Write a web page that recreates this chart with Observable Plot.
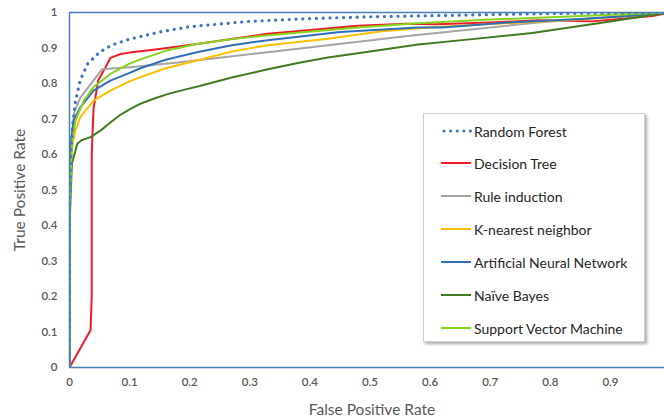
<!DOCTYPE html>
<html>
<head>
<meta charset="utf-8">
<script src="https://cdn.jsdelivr.net/npm/d3@7"></script>
<script src="https://cdn.jsdelivr.net/npm/@observablehq/plot@0.6"></script>
<style>
  body { margin: 0; background: #fff; }
  #wrap { position: relative; width: 664px; height: 417px; overflow: hidden; font-family: Lato, "Open Sans", sans-serif; }
  #legend { position: absolute; left: 423px; top: 113px; width: 222px; height: 229px; background: #fff;
            border: 1px solid #d0d0d0; box-shadow: 2px 2px 3px rgba(0,0,0,0.35); box-sizing: border-box; }
  .item { position: absolute; left: 17px; height: 16px; display: flex; align-items: center; font-size: 14px; color: #262626; white-space: nowrap; }
  .item svg { margin-right: 0px; }
</style>
</head>
<body>
<div id="wrap"></div>
<script>
// ---- data ----
const seriesNames = ["Random Forest", "Decision Tree", "Rule induction", "K-nearest neighbor", "Artificial Neural Network", "Naïve Bayes", "Support Vector Machine"];
const seriesColors = ["#4472c4", "#ee1c25", "#a5a5a5", "#ffc000", "#2e6fb7", "#417a22", "#86d41c"];

const rfFpr  = [0, 0, 0.002, 0.005, 0.01, 0.018, 0.03, 0.05, 0.07, 0.1, 0.15, 0.2, 0.3, 0.4, 0.5, 0.6, 0.7, 0.8, 0.9, 1];
const rfTpr  = [0, 0.45, 0.6, 0.68, 0.75, 0.81, 0.855, 0.888, 0.908, 0.925, 0.945, 0.96, 0.975, 0.983, 0.988, 0.991, 0.994, 0.997, 0.999, 1];

const dtFpr  = [0, 0.035, 0.037, 0.037, 0.04, 0.048, 0.06, 0.068, 0.085, 0.1, 0.15, 0.212, 0.33, 0.48, 0.56, 0.61, 0.7, 0.78, 0.87, 0.97, 1];
const dtTpr  = [0, 0.105, 0.2, 0.6, 0.73, 0.81, 0.846, 0.872, 0.883, 0.887, 0.897, 0.911, 0.94, 0.963, 0.968, 0.967, 0.972, 0.978, 0.975, 0.99, 1];

const riFpr  = [0, 0, 0.008, 0.018, 0.027, 0.054, 0.1, 0.185, 0.33, 0.57, 0.78, 1];
const riTpr  = [0, 0.6, 0.72, 0.76, 0.78, 0.84, 0.846, 0.86, 0.888, 0.935, 0.972, 1];

const knnFpr = [0, 0, 0.005, 0.01, 0.018, 0.04, 0.068, 0.1, 0.118, 0.16, 0.212, 0.27, 0.33, 0.43, 0.52, 0.6, 0.67, 0.8, 0.9, 1];
const knnTpr = [0, 0.5, 0.63, 0.668, 0.705, 0.752, 0.78, 0.806, 0.818, 0.843, 0.865, 0.89, 0.908, 0.926, 0.947, 0.958, 0.965, 0.976, 0.986, 1];

const annFpr = [0, 0, 0.003, 0.007, 0.018, 0.04, 0.068, 0.1, 0.118, 0.16, 0.212, 0.27, 0.33, 0.45, 0.58, 0.62, 0.73, 0.85, 0.93, 1];
const annTpr = [0, 0.45, 0.64, 0.696, 0.733, 0.78, 0.808, 0.83, 0.843, 0.867, 0.888, 0.908, 0.922, 0.945, 0.958, 0.958, 0.972, 0.982, 0.99, 1];

const nbFpr  = [0, 0, 0.004, 0.013, 0.02, 0.035, 0.052, 0.07, 0.085, 0.1, 0.118, 0.14, 0.163, 0.19, 0.215, 0.27, 0.33, 0.38, 0.43, 0.5, 0.58, 0.67, 0.77, 0.88, 0.99, 1];
const nbTpr  = [0, 0.4, 0.574, 0.63, 0.64, 0.649, 0.668, 0.693, 0.712, 0.727, 0.743, 0.757, 0.77, 0.782, 0.792, 0.817, 0.84, 0.858, 0.873, 0.89, 0.91, 0.925, 0.942, 0.97, 0.998, 1];

const svmFpr = [0, 0, 0.004, 0.01, 0.024, 0.04, 0.068, 0.1, 0.118, 0.16, 0.212, 0.27, 0.33, 0.48, 0.58, 0.7, 0.85, 1];
const svmTpr = [0, 0.45, 0.63, 0.696, 0.752, 0.79, 0.827, 0.856, 0.868, 0.892, 0.911, 0.925, 0.936, 0.958, 0.97, 0.98, 0.99, 1];

const xTicks = [0, 0.1, 0.2, 0.3, 0.4, 0.5, 0.6, 0.7, 0.8, 0.9];
const yTicks = [0, 0.1, 0.2, 0.3, 0.4, 0.5, 0.6, 0.7, 0.8, 0.9, 1];
const xTitle = "False Positive Rate";
const yTitle = "True Positive Rate";

// ---- build table ----
const fprs = [rfFpr, dtFpr, riFpr, knnFpr, annFpr, nbFpr, svmFpr];
const tprs = [rfTpr, dtTpr, riTpr, knnTpr, annTpr, nbTpr, svmTpr];
const rows = [];
seriesNames.forEach((s, i) => fprs[i].forEach((x, j) => rows.push({series: s, x, y: tprs[i][j]})));
const solid = rows.filter(d => d.series !== "Random Forest");
const dotted = rows.filter(d => d.series === "Random Forest");
const axisColor = "#4a7ebb";
const textColor = "#595959";

const chart = Plot.plot({
  width: 664,
  height: 417,
  marginLeft: 69,
  marginRight: 0,
  marginTop: 12,
  marginBottom: 50,
  style: {fontFamily: "Lato, 'Open Sans', sans-serif", background: "#fff"},
  x: {domain: [0, 0.99]},
  y: {domain: [0, 1]},
  color: {domain: seriesNames, range: seriesColors},
  marks: [
    Plot.axisX({ticks: xTicks, tickSize: 0, tickPadding: 10, tickFormat: d3.format("~g"), fontSize: 11.5, fontWeight: 600, color: textColor, label: null}),
    Plot.axisY({ticks: yTicks, tickSize: 0, tickPadding: 12, tickFormat: d3.format("~g"), fontSize: 11.5, fontWeight: 600, color: textColor, label: null}),
    Plot.text([xTitle], {text: d => d, frameAnchor: "bottom", dx: 5, dy: 43, textAnchor: "middle", lineAnchor: "middle", fontSize: 15.5, fill: textColor}),
    Plot.text([yTitle], {text: d => d, frameAnchor: "left", dx: -49, rotate: -90, textAnchor: "middle", lineAnchor: "middle", fontSize: 15.5, fill: textColor}),
    Plot.line(solid, {x: "x", y: "y", z: "series", stroke: "series", strokeWidth: 2, clip: true}),
    Plot.line(dotted, {x: "x", y: "y", stroke: "series", strokeWidth: 3.2, strokeDasharray: "0.1 6.7", strokeLinecap: "round", clip: true}),
    Plot.ruleY([0, 1], {stroke: axisColor, strokeWidth: 1.5}),
    Plot.ruleX([0], {stroke: axisColor, strokeWidth: 1.5})
  ]
});
const wrap = document.getElementById("wrap");
wrap.appendChild(chart);

// ---- legend ----
const legend = document.createElement("div");
legend.id = "legend";
const itemTops = [9, 41, 74, 107, 140, 173, 206];
seriesNames.forEach((s, i) => {
  const it = document.createElement("div");
  it.className = "item";
  it.style.top = itemTops[i] + "px";
  const dash = i === 0 ? `stroke-dasharray="0.1 6.5" stroke-linecap="round" stroke-width="3"` : `stroke-width="2"`;
  it.innerHTML = `<svg width="33" height="6"><line x1="${i===0?3:0}" y1="3" x2="30" y2="3" stroke="${seriesColors[i]}" ${dash}/></svg><span>${s}</span>`;
  legend.appendChild(it);
});
wrap.appendChild(legend);
</script>
</body>
</html>
